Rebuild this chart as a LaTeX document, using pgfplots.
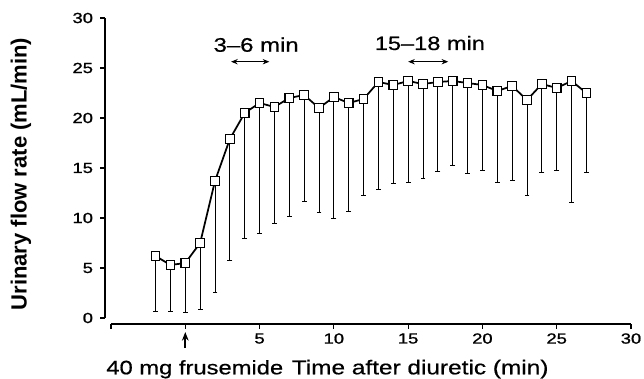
\documentclass[border=0pt]{standalone}
\usepackage{pgfplots}
\pgfplotsset{compat=1.18}
\usepackage{pgfplotstable}
\usetikzlibrary{arrows.meta}
\usepackage{fontspec}
\setmainfont{Liberation Sans}
\newfontfamily\widefont{Liberation Sans}[FakeStretch=1.22, FakeBold=0.6, Ligatures=TeX]
\newfontfamily\tickfont{Liberation Sans}[FakeStretch=1.25, FakeBold=1.2]
\pgfplotstableread{
t v lo
-2 6.2 0.7
-1 5.3 0.7
0 5.5 0.6
1 7.5 0.9
2 13.7 2.6
3 17.9 5.8
4 20.5 8.0
5 21.5 8.5
6 21.1 9.5
7 22.0 10.2
8 22.3 11.7
9 21.0 10.6
10 22.1 10.0
11 21.5 10.7
12 21.9 12.3
13 23.6 12.9
14 23.3 13.5
15 23.7 13.6
16 23.4 14.0
17 23.6 14.7
18 23.7 15.3
19 23.5 14.5
20 23.3 14.8
21 22.7 13.6
22 23.2 13.8
23 21.8 12.3
24 23.4 14.6
25 23.0 14.8
26 23.7 11.6
27 22.5 14.6
}\flowdata
\begin{document}
\begin{tikzpicture}
\path[use as bounding box] (-83.25pt,-45.75pt) rectangle (399.75pt,238.5pt);
\begin{axis}[
  at={(0,0)}, anchor=south west,
  scale only axis, width=390pt, height=225pt,
  xmin=-5, xmax=30, ymin=0, ymax=30,
  axis lines=left,
  axis x line shift=4.5pt, axis y line shift=4.5pt,
  axis line style={-, line width=0.9pt},
  xtick={-5,0,5,10,...,30}, xticklabels={,,5,10,15,20,25,30},
  ytick={0,5,...,30},
  tick align=outside, major tick length=3.5pt,
  tick style={line width=0.8pt, black},
  tick label style={font=\tickfont\fontsize{11}{12}\selectfont},
  yticklabel style={xshift=-2pt},
  /pgf/number format/assume math mode=true,
  clip=false,
]
\addplot[forget plot, draw=none, mark=none,
  error bars/.cd, y dir=minus, y explicit,
  error bar style={draw=black, line width=0.7pt},
  error mark options={draw=black, rotate=90, mark size=1.8pt, line width=0.7pt}]
  table[x=t, y=v, y error minus expr=\thisrow{v}-\thisrow{lo}] {\flowdata};
\addplot[black, line width=1.3pt, mark=square*,
  mark options={fill=white, draw=black, line width=0.8pt, mark size=3.2pt}]
  table[x=t, y=v] {\flowdata};
\draw[-{Stealth[length=6.5pt,width=5pt]}, line width=1.2pt] (axis cs:0,-3.0) -- (axis cs:0,-1.4);
\node[anchor=base west, inner sep=0pt, font=\widefont\fontsize{14.6}{18}\selectfont] at (axis cs:-5.33,-5.63) {40 mg frusemide};
\node[anchor=base west, inner sep=0pt, font=\widefont\fontsize{15}{18}\selectfont] at (axis cs:7.15,-5.63) {Time after diuretic (min)};
\node[anchor=base west, inner sep=0pt, font=\widefont\fontsize{14.7}{18}\selectfont] at (axis cs:1.89,26.63) {3–6 min};
\node[anchor=base west, inner sep=0pt, font=\widefont\fontsize{14.5}{18}\selectfont] at (axis cs:12.74,26.8) {15–18 min};
\draw[{Stealth[length=5pt,width=4pt]}-{Stealth[length=5pt,width=4pt]}, line width=0.7pt] (axis cs:3.08,25.63) -- (axis cs:5.66,25.63);
\draw[{Stealth[length=5pt,width=4pt]}-{Stealth[length=5pt,width=4pt]}, line width=0.7pt] (axis cs:15.0,25.63) -- (axis cs:17.7,25.63);
\node[rotate=90, inner sep=0pt, font=\bfseries\fontsize{16.5}{18}\selectfont] at (axis cs:-11.06,14.4) {Urinary flow rate (mL/min)};
\end{axis}
\end{tikzpicture}
\end{document}
